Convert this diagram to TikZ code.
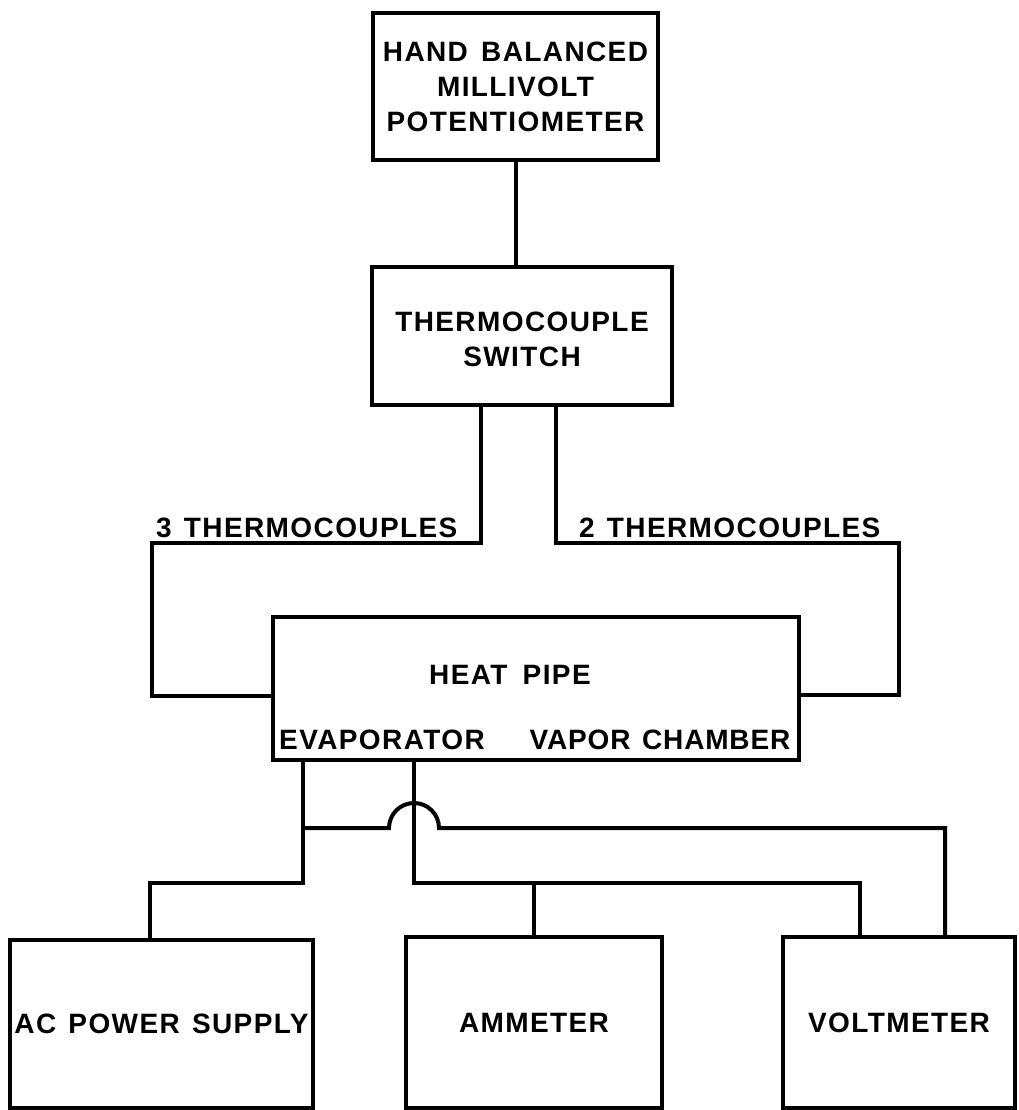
\documentclass[tikz,border=0pt]{standalone}
\usepackage{fontspec}
\newfontfamily\lblfont[LetterSpace=5]{Liberation Sans}
\newfontfamily\lblfontn[LetterSpace=3]{Liberation Sans}
\usetikzlibrary{calc}
\begin{document}
\begin{tikzpicture}[x=1pt,y=-1pt,
  txt/.style={font=\lblfont\bfseries\fontsize{28}{35}\selectfont, inner sep=0pt},
  blk/.style={draw, line width=4.5pt, outer sep=0pt, txt, align=center, minimum width=#1},
  wire/.style={line width=4pt, line join=miter},
]
\useasboundingbox (0,0) rectangle (1018,1110);
% boxes
\node[blk=285, minimum height=147] (mv) at (515.5,86.5) {HAND\hspace{4pt} BALANCED\\MILLIVOLT\\POTENTIOMETER};
\node[blk=300, minimum height=138, text depth=0pt] (sw) at (522,336) {\raisebox{-6pt}{THERMOCOUPLE}\\\raisebox{-6pt}{SWITCH}};
\node[blk=526, minimum height=143] (hp) at (536,688.5) {};
\node[txt] (hpt) at (510,675) {HEAT\hspace{6pt} PIPE};
\node[txt] (evt) at (382,740) {EVAPORATOR};
\node[txt, font=\lblfontn\bfseries\fontsize{28}{35}\selectfont] (vct) at (660,740) {VAPOR\hspace{3pt} CHAMBER};
\node[blk=303, minimum height=168] (ac) at (161.5,1024) {\raisebox{-4pt}{AC\hspace{3pt} POWER\hspace{3pt} SUPPLY}};
\node[blk=256, minimum height=171] (am) at (534,1022.5) {\raisebox{-6pt}{AMMETER}};
\node[blk=232, minimum height=171] (vm) at (899,1022.5) {\raisebox{-6pt}{VOLTMETER}};
% labels
\node[txt, anchor=base west] (l3) at (156,537) {3\hspace{3pt} THERMOCOUPLES};
\node[txt, anchor=base west] (l2) at (579,537) {2\hspace{3pt} THERMOCOUPLES};
% wires
\draw[wire] (mv.south) -- (mv.south |- sw.north);
\draw[wire] ($(sw.south)+(-41,0)$) |- ($(hp.north west)+(-121,-74)$) |- ($(hp.west)+(0,7.5)$);
\draw[wire] ($(sw.south)+(34,0)$) |- ($(hp.north east)+(100,-74)$) |- ($(hp.east)+(0,6.5)$);
\coordinate (e1) at ($(hp.south west)+(30,0)$);
\coordinate (e2) at ($(hp.south west)+(141,0)$);
\coordinate (acin) at ($(ac.north)+(-11.5,0)$);
\coordinate (vin1) at ($(vm.north)+(-39,0)$);
\coordinate (vin2) at ($(vm.north)+(46,0)$);
\draw[wire] (e1) |- ($(acin)+(0,-57)$) -- (acin);
\draw[wire] ($(e1)+(0,68)$) -- ($(e2)+(-25,68)$) arc[start angle=180, end angle=0, radius=25pt]
  -| (vin2);
\draw[wire] (e2) |- ($(vin1)+(0,-54)$) -- (vin1);
\draw[wire] (am.north) -- ($(am.north)+(0,-54)$);
\draw[wire] ($(ac.east)+(0,6)$) -- ($(ac.east)+(0,6)$ -| am.west);
\end{tikzpicture}
\end{document}
